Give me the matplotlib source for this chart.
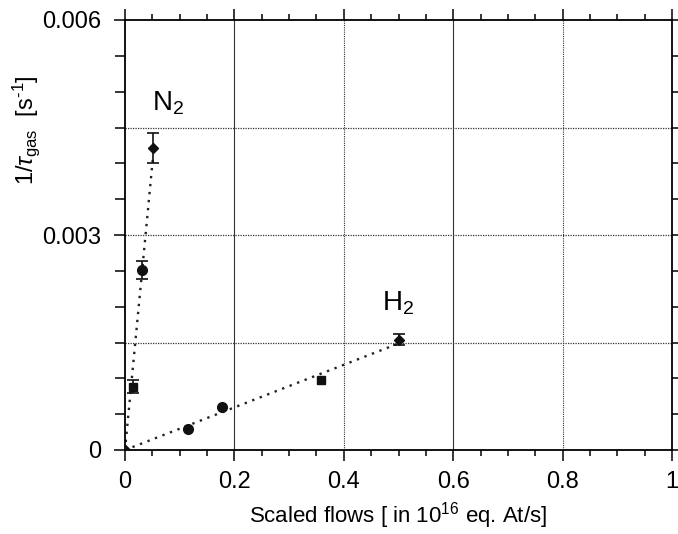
import numpy as np
import matplotlib
matplotlib.use("Agg")
import matplotlib.pyplot as plt
from matplotlib.ticker import MultipleLocator, FixedLocator

plt.rcParams['font.family'] = ['Liberation Sans', 'DejaVu Sans']
plt.rcParams['font.sans-serif'] = ['Liberation Sans', 'DejaVu Sans']
plt.rcParams['mathtext.fontset'] = 'custom'
plt.rcParams['mathtext.rm'] = 'sans'
plt.rcParams['mathtext.it'] = 'sans:italic'
plt.rcParams['mathtext.bf'] = 'sans:bold'

# N2 data: scaled flow, 1/tau, error
n2_x = [0.0, 0.015, 0.0315, 0.0515]
n2_y = [0.0, 0.00088, 0.00251, 0.00421]
n2_err = [0.0, 0.00009, 0.00013, 0.00021]
n2_markers = ['D', 's', 'o', 'D']

# H2 data
h2_x = [0.0, 0.115, 0.1776, 0.359, 0.500]
h2_y = [0.0, 0.00030, 0.00060, 0.00097, 0.00154]
h2_err = [0.0, 0.0, 0.0, 0.0, 0.00008]
h2_markers = ['D', 'o', 'o', 's', 'D']

xticks = [0, 0.2, 0.4, 0.6, 0.8, 1]
xticklabels = ['0', '0.2', '0.4', '0.6', '0.8', '1']
yticks = [0, 0.003, 0.006]
yticklabels = ['0', '0.003', '0.006']

fig = plt.figure(figsize=(6.78, 5.34), dpi=100)
ax = fig.add_axes([125/678, 1-450/534, (672-125)/678, (450-20)/534])

ax.set_xlim(0, 1)
ax.set_ylim(0, 0.006)

# grid lines
for gx in [0.2, 0.4, 0.6, 0.8]:
    ls = '-' if gx in (0.2, 0.6) else (0, (1, 1))
    ax.axvline(gx, color='#333333', lw=0.8, ls=ls, zorder=1)
for gy in [0.0015, 0.003, 0.0045]:
    ax.axhline(gy, color='#333333', lw=0.9, ls=(0, (1, 1)), zorder=1)

def fit_line(xs, ys):
    xs = np.asarray(xs); ys = np.asarray(ys)
    k = np.sum(xs*ys)/np.sum(xs*xs)
    xx = np.array([0, xs.max()])
    return xx, k*xx

for xs, ys in [(n2_x, n2_y), (h2_x, h2_y)]:
    fx, fy = fit_line(xs, ys)
    ax.plot(fx, fy, color='#222222', lw=1.7, ls=(0, (1, 2.4)), zorder=2)

def draw(xs, ys, errs, mks):
    for x, y, e, m in zip(xs, ys, errs, mks):
        size = {'D': 5.5, 's': 5.5, 'o': 7}[m]
        if e > 0:
            ax.errorbar([x], [y], yerr=[e], fmt=m, color='#111111', ms=size,
                        capsize=4, elinewidth=1.2, capthick=1.2, zorder=3)
        else:
            ax.plot([x], [y], m, color='#111111', ms=size, zorder=3)

draw(n2_x, n2_y, n2_err, n2_markers)
draw(h2_x, h2_y, h2_err, h2_markers)

ax.text(0.049, 0.00474, 'N$_2$', fontsize=20, ha='left', va='baseline')
ax.text(0.469, 0.00194, 'H$_2$', fontsize=20, ha='left', va='baseline')

ax.xaxis.set_major_locator(FixedLocator(xticks))
ax.set_xticklabels(xticklabels)
ax.yaxis.set_major_locator(FixedLocator(yticks))
ax.set_yticklabels(yticklabels)
ax.xaxis.set_minor_locator(MultipleLocator(0.05))
ax.yaxis.set_minor_locator(MultipleLocator(0.0005))
ax.tick_params(which='both', direction='out', top=True, right=True, width=1.1)
ax.tick_params(which='major', length=8, labelsize=17)
ax.tick_params(axis='x', which='major', pad=7)
ax.tick_params(axis='y', which='major', pad=9)
ax.tick_params(axis='y', which='minor', length=7)
ax.tick_params(axis='x', which='minor', length=4)
for s in ax.spines.values():
    s.set_linewidth(1.3)

ax.set_xlabel('Scaled flows [ in 10$^{16}$ eq. At/s]', fontsize=16, labelpad=5)
fig.text(26/678, 1-130/534, r'1/$\tau_{\mathrm{gas}}$  [s$^{\mathrm{\text{-}1}}$]', rotation=90,
         fontsize=17, ha='center', va='center')

fig.savefig('out.png', dpi=100, facecolor='white')
